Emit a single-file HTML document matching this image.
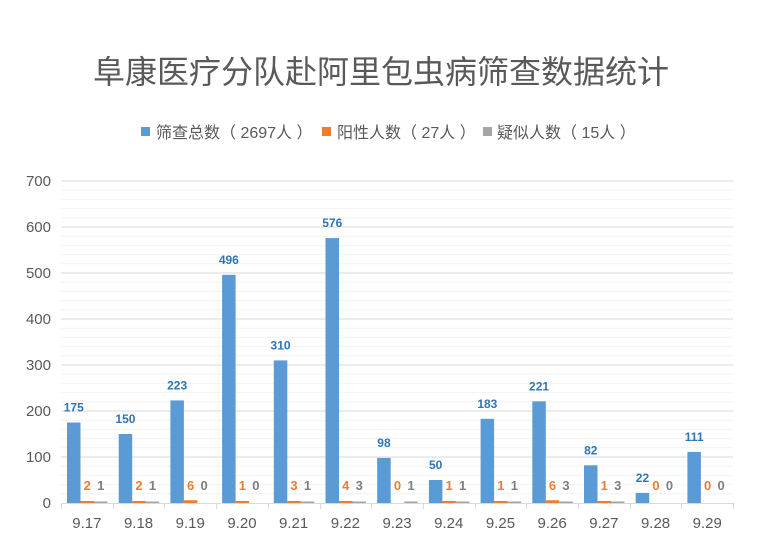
<!DOCTYPE html>
<html><head><meta charset="utf-8"><style>
body{margin:0;background:#fff;}
svg{display:block;font-family:"Liberation Sans","Noto Sans CJK SC",sans-serif;}
</style></head><body>
<svg id="c" width="757" height="547" xmlns="http://www.w3.org/2000/svg">
<text x="381" y="83" text-anchor="middle" font-size="32" fill="#595959">阜康医疗分队赴阿里包虫病筛查数据统计</text>
<rect x="141" y="127" width="9" height="9" fill="#5b9bd5"/>
<text x="156" y="138" font-size="16" fill="#595959" xml:space="preserve">筛查总数（ 2697人 ）</text>
<rect x="322" y="127" width="9" height="9" fill="#ed7d31"/>
<text x="337" y="138" font-size="16" fill="#595959" xml:space="preserve">阳性人数（ 27人 ）</text>
<rect x="483" y="127" width="9" height="9" fill="#a5a5a5"/>
<text x="497" y="138" font-size="16" fill="#595959" xml:space="preserve">疑似人数（ 15人 ）</text>
<g id="g"></g>
</svg>
<script>
var g=document.getElementById('g'),s='';
var y0=503,k=0.46;
for(var v=20;v<=700;v+=20){var y=y0-v*k;s+='<line x1="61" x2="733" y1="'+y+'" y2="'+y+'" stroke="'+(v%100?'#f2f2f2':'#d9d9d9')+'" stroke-width="1"/>';}
for(var v=0;v<=700;v+=100){s+='<text x="51" y="'+(y0-v*k+5)+'" text-anchor="end" font-size="15" fill="#595959">'+v+'</text>';}
var cats=['9.17','9.18','9.19','9.20','9.21','9.22','9.23','9.24','9.25','9.26','9.27','9.28','9.29'];
var b=[175,150,223,496,310,576,98,50,183,221,82,22,111];
var o=[2,2,6,1,3,4,0,1,1,6,1,0,0];
var gr=[1,1,0,0,1,3,1,1,1,3,3,0,0];
var w=51.7,bw=13.5;
for(var i=0;i<13;i++){
 var L=61+i*w,x=L+6;
 var h=b[i]*k;
 s+='<rect x="'+x+'" y="'+(y0-h)+'" width="'+bw+'" height="'+h+'" fill="#5b9bd5"/>';
 s+='<text x="'+(x+bw/2)+'" y="'+(y0-h-11)+'" text-anchor="middle" font-size="12" font-weight="bold" fill="#2e75b6">'+b[i]+'</text>';
 if(o[i]>0){var ho=Math.max(2,o[i]*k);s+='<rect x="'+(x+bw)+'" y="'+(y0-ho)+'" width="'+bw+'" height="'+ho+'" fill="#ed7d31"/>';}
 if(gr[i]>0){var hg=Math.max(1.5,gr[i]*k);s+='<rect x="'+(x+2*bw)+'" y="'+(y0-hg)+'" width="'+bw+'" height="'+hg+'" fill="#a5a5a5"/>';}
 s+='<text x="'+(x+bw*1.5)+'" y="'+(y0-13)+'" text-anchor="middle" font-size="13" font-weight="bold" fill="#ed7d31">'+o[i]+'</text>';
 s+='<text x="'+(x+bw*2.5)+'" y="'+(y0-13)+'" text-anchor="middle" font-size="13" font-weight="bold" fill="#7f7f7f">'+gr[i]+'</text>';
 s+='<text x="'+(L+w/2)+'" y="528" text-anchor="middle" font-size="15" fill="#595959">'+cats[i]+'</text>';
}
s+='<line x1="61" x2="733" y1="503.5" y2="503.5" stroke="#d9d9d9"/>';
for(var i=0;i<=13;i++){var xx=Math.round(61+i*w)+0.5;s+='<line x1="'+xx+'" x2="'+xx+'" y1="503" y2="509" stroke="#d9d9d9"/>';}
g.innerHTML=s;
</script>
</body></html>
